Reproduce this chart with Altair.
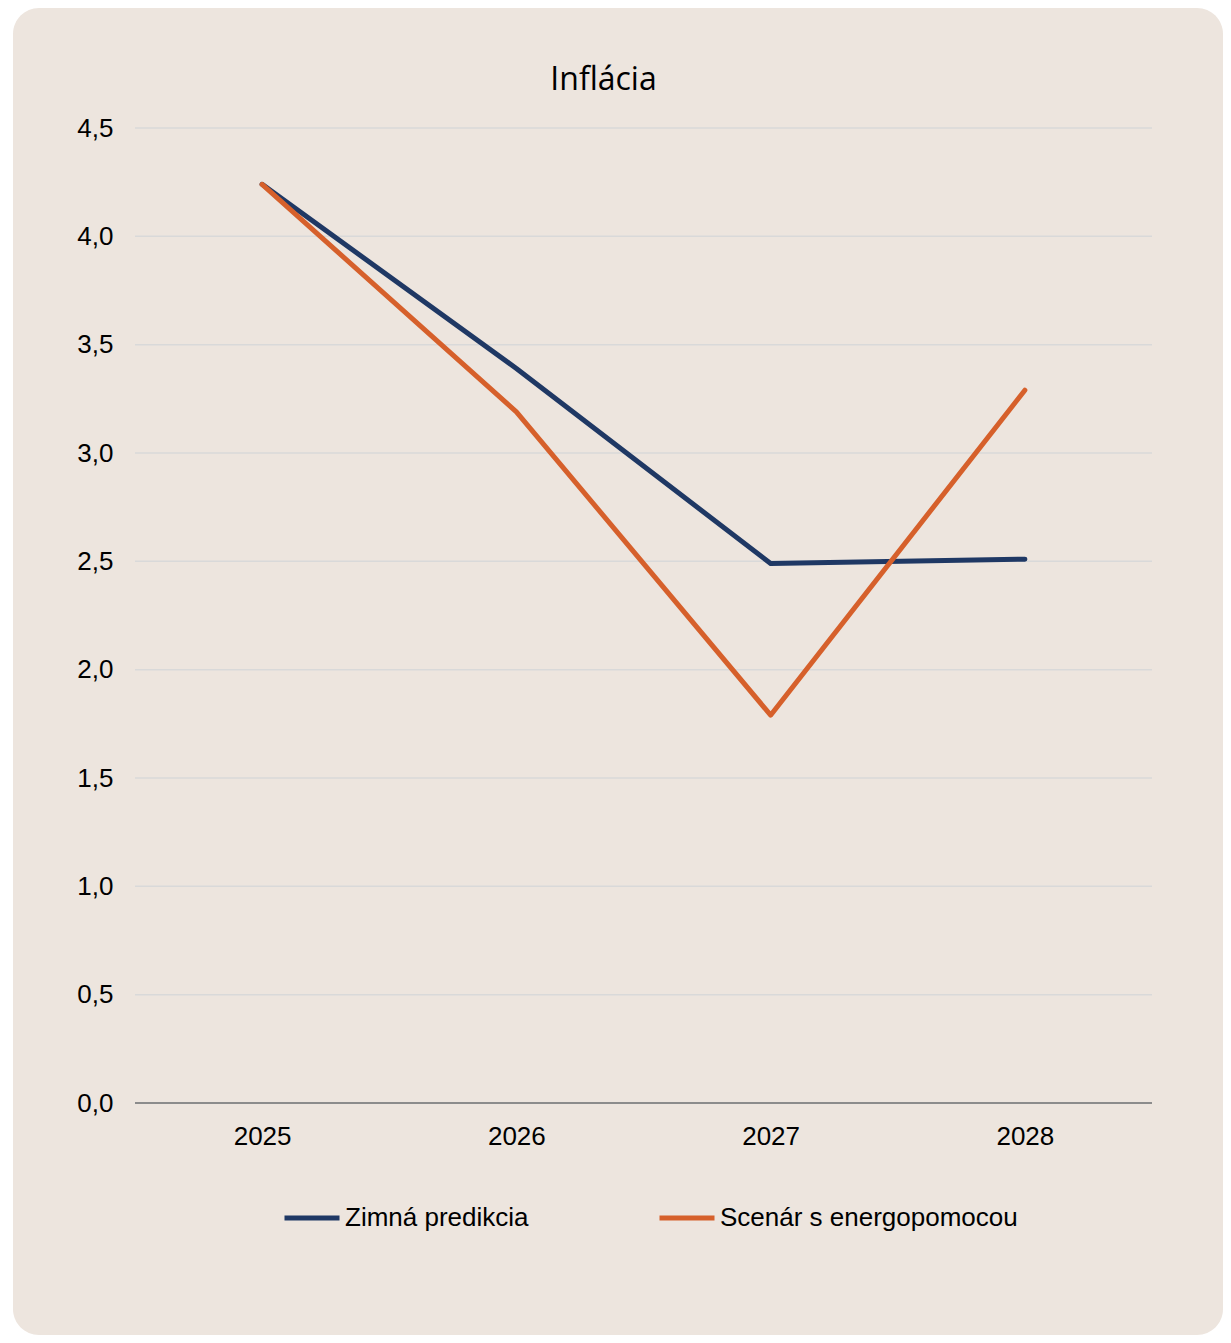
import altair as alt
import pandas as pd

years = ["2025", "2026", "2027", "2028"]
series_names = ["Zimná predikcia", "Scenár s energopomocou"]
zimna = [4.24, 3.39, 2.49, 2.51]
scenar = [4.24, 3.19, 1.79, 3.29]
y_ticks = [0, 0.5, 1.0, 1.5, 2.0, 2.5, 3.0, 3.5, 4.0, 4.5]
colors = ["#1f3864", "#d6602b"]
title_text = "Inflácia"

rows = []
for y, v in zip(years, zimna):
    rows.append({"rok": y, "hodnota": v, "seria": series_names[0]})
for y, v in zip(years, scenar):
    rows.append({"rok": y, "hodnota": v, "seria": series_names[1]})
df = pd.DataFrame(rows)

W, H = 1017, 975
FONT = "Liberation Sans"
yscale = alt.Scale(domain=[0, 4.5], nice=False, zero=True)

bg = alt.Chart(pd.DataFrame({"a": [0]})).mark_rect(
    color="#ede5de", cornerRadius=26
).encode(
    x=alt.value(-122), x2=alt.value(W + 71),
    y=alt.value(-120), y2=alt.value(H + 232),
)

title = alt.Chart(pd.DataFrame({"t": [title_text]})).mark_text(
    font="Open Sans", fontSize=32, color="#000", align="center", baseline="middle"
).encode(text="t:N", x=alt.value(W / 2 - 40), y=alt.value(-48))

grid = alt.Chart(pd.DataFrame({"v": y_ticks[1:]})).mark_rule(color="#d9d9d9", strokeWidth=1.5).encode(
    y=alt.Y("v:Q", scale=yscale), x=alt.value(0), x2=alt.value(W),
)

zero_rule = alt.Chart(pd.DataFrame({"v": [0]})).mark_rule(color="#8c8c8c", strokeWidth=2).encode(
    y=alt.Y("v:Q", scale=yscale),
    x=alt.value(0), x2=alt.value(W),
)

lines = alt.Chart(df).mark_line(strokeWidth=5, strokeCap="round", strokeJoin="round").encode(
    x=alt.X("rok:O", sort=years, scale=alt.Scale(type="point", padding=0.5),
            axis=alt.Axis(title=None, labelAngle=0, ticks=False, domain=False, grid=False,
                          labelPadding=20, labelFontSize=26, labelFont=FONT, labelColor="#000",
                          zindex=1)),
    y=alt.Y("hodnota:Q", scale=yscale,
            axis=alt.Axis(title=None, values=y_ticks, ticks=False, domain=False, grid=False,
                          labelExpr="replace(format(datum.value, '.1f'), '.', ',')",
                          labelPadding=22, labelFontSize=26, labelFont=FONT, labelColor="#000",
                          zindex=1)),
    color=alt.Color("seria:N", scale=alt.Scale(domain=series_names, range=colors),
                    sort=series_names,
                    legend=alt.Legend(title=None, orient="none", legendX=147, legendY=1060,
                                      direction="horizontal", symbolType="stroke",
                                      symbolSize=3025, symbolStrokeWidth=5,
                                      labelFontSize=26, labelFont=FONT, labelColor="#000",
                                      labelOffset=3, columnPadding=120, labelLimit=0,
                                      zindex=1)),
)

chart = alt.layer(bg, grid, zero_rule, title, lines).properties(
    width=W, height=H,
    autosize=alt.AutoSizeParams(type="none"),
    padding={"left": 127, "top": 120, "right": 71, "bottom": 232},
    background="white",
).configure_view(stroke=None)

chart.save("out.html", embed_options={"renderer": "svg", "actions": False})
